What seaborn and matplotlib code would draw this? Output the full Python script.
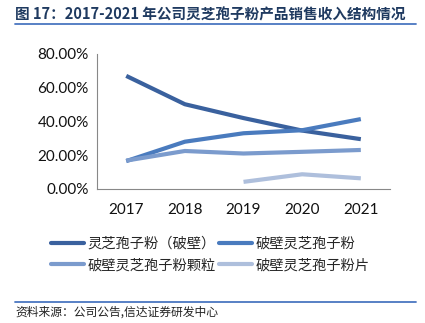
import numpy as np
import pandas as pd
import matplotlib
matplotlib.use("Agg")
import matplotlib.pyplot as plt
import seaborn as sns
from matplotlib.lines import Line2D
from matplotlib.font_manager import FontProperties

years = ["2017", "2018", "2019", "2020", "2021"]
series_names = ["灵芝孢子粉（破壁）", "破壁灵芝孢子粉", "破壁灵芝孢子粉颗粒", "破壁灵芝孢子粉片"]
s1 = [0.670, 0.502, 0.420, 0.346, 0.295]
s2 = [0.165, 0.280, 0.330, 0.348, 0.414]
s3 = [0.168, 0.225, 0.210, 0.220, 0.231]
s4 = [np.nan, np.nan, 0.042, 0.087, 0.063]
yticks = [0.0, 0.2, 0.4, 0.6, 0.8]
title = "图 17：2017-2021 年公司灵芝孢子粉产品销售收入结构情况"
source = "资料来源：公司公告,信达证券研发中心"

colors = ["#3A619E", "#4A7BBE", "#7B9BCD", "#AEBFDC"]

sns.set_style("white")
plt.rcParams['font.family'] = ['Lato', 'Noto Sans CJK SC', 'DejaVu Sans']

rows = []
for name, vals in zip(series_names, [s1, s2, s3, s4]):
    for i, (y, v) in enumerate(zip(years, vals)):
        rows.append({"x": i, "year": y, "series": name, "value": v})
df = pd.DataFrame(rows)

fig = plt.figure(figsize=(4.25, 3.23), dpi=100)
ax = fig.add_axes([0.228, 0.415, 0.69, 0.418])
sns.lineplot(data=df, x="x", y="value", hue="series", hue_order=series_names,
             palette=colors, linewidth=3.0, ax=ax, legend=False, solid_capstyle="butt")

ax.set_xlim(-0.5, 4.5)
ax.set_ylim(0, 0.8)
ax.set_yticks(yticks)
ax.set_yticklabels([f"{v*100:.2f}%" for v in yticks], fontsize=11, color="#111111")
ax.set_xticks(range(len(years)))
ax.set_xticklabels(years, fontsize=11, color="#111111")
ax.set_xticks(np.arange(-0.5, 5, 1), minor=True)
ax.tick_params(axis="x", which="major", length=0, pad=10)
ax.tick_params(axis="x", which="minor", length=4, direction="out", color="#888888", width=0.8)
ax.tick_params(axis="y", which="major", length=0, pad=6)
ax.set_xlabel("")
ax.set_ylabel("")
for sp in ["top", "right"]:
    ax.spines[sp].set_visible(False)
for sp in ["left", "bottom"]:
    ax.spines[sp].set_color("#888888")
    ax.spines[sp].set_linewidth(0.8)

handles = [Line2D([0], [0], color=c, lw=3.0) for c in colors]
order = [0, 2, 1, 3]
legfont = FontProperties(family=["Noto Sans CJK SC", "DejaVu Sans"], size=10.3)
fig.legend([handles[i] for i in order], [series_names[i] for i in order], ncol=2,
           loc="center", bbox_to_anchor=(0.495, 0.212),
           frameon=False, prop=legfont, handlelength=2.3, handletextpad=0.25,
           columnspacing=0.2, labelspacing=0.55)

fig.text(0.036, 0.955, title, fontsize=10.5, fontweight="bold", color="#1F3A60",
         family=["Noto Sans CJK SC", "DejaVu Sans"], va="center", ha="left")
fig.add_artist(Line2D([0.035, 0.978], [0.925, 0.925], color="#4A76C0", lw=1.3,
                      transform=fig.transFigure))
fig.add_artist(Line2D([0.035, 0.978], [0.066, 0.066], color="#4A76C0", lw=1.3,
                      transform=fig.transFigure))
fig.text(0.036, 0.033, source, fontsize=8.5, color="#222222", style="italic",
         family=["Noto Sans CJK SC", "DejaVu Sans"], va="center", ha="left")

fig.savefig("out.png", dpi=100)
